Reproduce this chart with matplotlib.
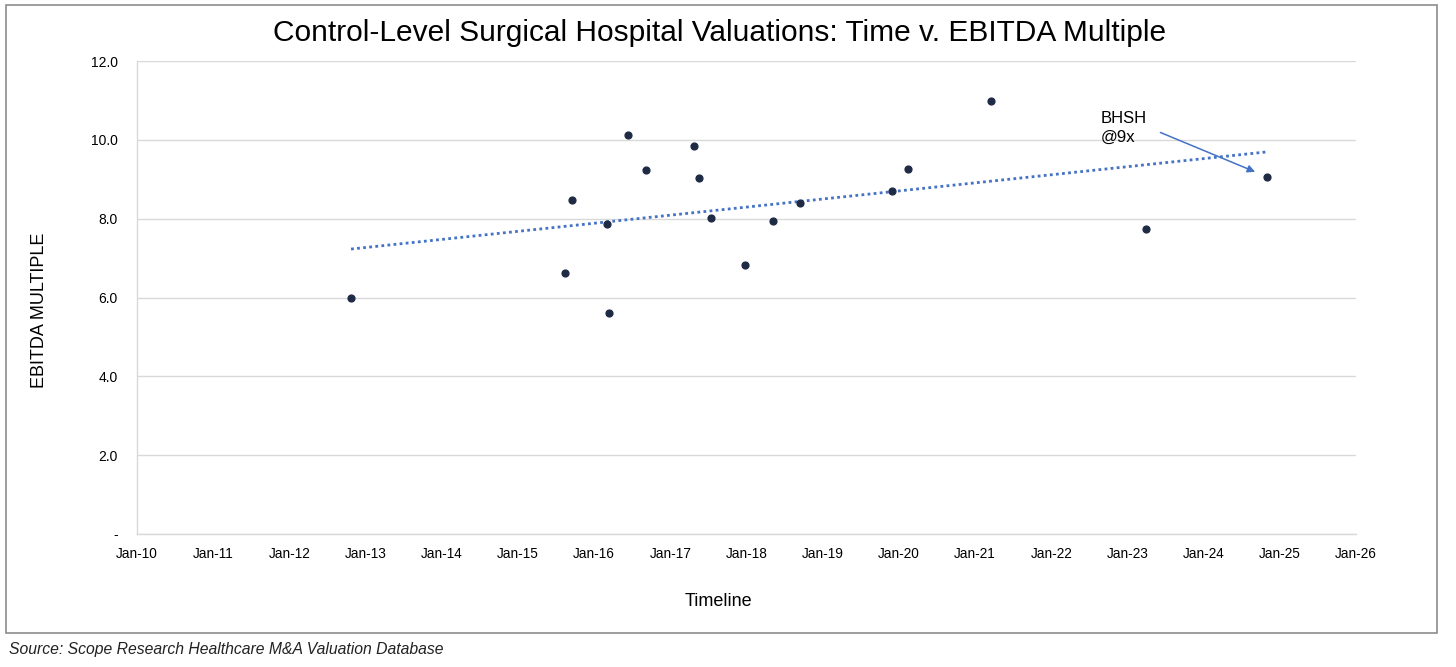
import numpy as np
import pandas as pd
import matplotlib
matplotlib.use('Agg')
import matplotlib.pyplot as plt
import matplotlib.dates as mdates
from matplotlib.patches import Rectangle

plt.rcParams['font.family'] = ['Liberation Sans', 'DejaVu Sans']

# deal dates and EBITDA multiples
deal_dates = ['2012-10-23', '2015-08-15', '2015-09-17', '2016-03-03', '2016-03-15',
              '2016-06-10', '2016-09-07', '2017-04-25', '2017-05-16', '2017-07-15',
              '2017-12-25', '2018-05-08', '2018-09-15', '2019-11-28', '2020-02-12',
              '2021-03-17', '2023-03-31', '2024-11-02']
multiples = [6.0, 6.62, 8.48, 7.87, 5.61,
             10.13, 9.23, 9.84, 9.02, 8.01,
             6.83, 7.95, 8.41, 8.70, 9.27,
             10.98, 7.73, 9.06]

year_ticks = list(range(2010, 2027))
y_ticks = [0, 2, 4, 6, 8, 10, 12]
y_labels = ['-', '2.0', '4.0', '6.0', '8.0', '10.0', '12.0']

note_text = 'BHSH\n@9x'
note_target = 17   # index of the BHSH deal

dates = pd.to_datetime(deal_dates)
xnum = mdates.date2num(dates)
yv = np.array(multiples)

fig = plt.figure(figsize=(14.56, 6.67), dpi=100)
fig.patches.append(Rectangle((0.004, 0.051), 0.983, 0.942, transform=fig.transFigure,
                             fill=False, ec='#8c8c8c', lw=1.2))

ax = fig.add_axes([0.0941, 0.1994, 0.8372, 0.7091])

# linear trendline (as in Excel), from first to last deal
coef = np.polyfit(xnum, yv, 1)
xt = np.array([xnum.min(), xnum.max()])
ax.plot(xt, np.polyval(coef, xt), ls=(0, (1, 1.2)), color='#4472c4', lw=2.0, zorder=2)

ax.scatter(xnum, yv, s=24, color='#1f2a44', zorder=3)

ax.set_xlim(mdates.date2num(pd.Timestamp('2010-01-01')), mdates.date2num(pd.Timestamp('2026-01-01')))
ax.set_ylim(0, 12)
xt_pos = [mdates.date2num(pd.Timestamp('%d-01-01' % yr)) for yr in year_ticks]
ax.set_xticks(xt_pos)
ax.set_xticklabels(['Jan-%02d' % (yr % 100) for yr in year_ticks])
ax.set_yticks(y_ticks)
ax.set_yticklabels(y_labels)
ax.tick_params(axis='both', length=0, colors='#000000')
ax.tick_params(axis='x', labelsize=9.8, pad=9)
ax.tick_params(axis='y', labelsize=10, pad=14)

ax.grid(axis='y', color='#d9d9d9', lw=1.0)
ax.set_axisbelow(True)
for s in ['top', 'right']:
    ax.spines[s].set_visible(False)
for s in ['left', 'bottom']:
    ax.spines[s].set_color('#d9d9d9')
    ax.spines[s].set_linewidth(1.0)

fig.text(718 / 1456, 1 - 602 / 667, 'Timeline', fontsize=13, ha='center', va='center')
fig.text(40 / 1456, 1 - 310 / 667, 'EBITDA MULTIPLE', fontsize=13, ha='center', va='center',
         rotation=90)

fig.text(720 / 1456, 1 - 33 / 667, 'Control-Level Surgical Hospital Valuations: Time v. EBITDA Multiple',
         ha='center', va='center', fontsize=21.5)

# note text and its arrow, placed relative to the BHSH point
ax.annotate(note_text, xy=(xnum[note_target], yv[note_target]), xytext=(-120, 35),
            textcoords='offset points', fontsize=12, va='center', ha='left',
            linespacing=1.3)
ax.annotate('', xy=(xnum[note_target], yv[note_target]), xytext=(-77, 32),
            textcoords='offset points',
            arrowprops=dict(arrowstyle='-|>', color='#4472c4', lw=1.1,
                            shrinkA=0, shrinkB=9.5, mutation_scale=11))

fig.text(0.006, 0.026, 'Source: Scope Research Healthcare M&A Valuation Database',
         fontsize=11.3, style='italic', va='center', ha='left', color='#222222')

fig.savefig('out.png', dpi=100)
